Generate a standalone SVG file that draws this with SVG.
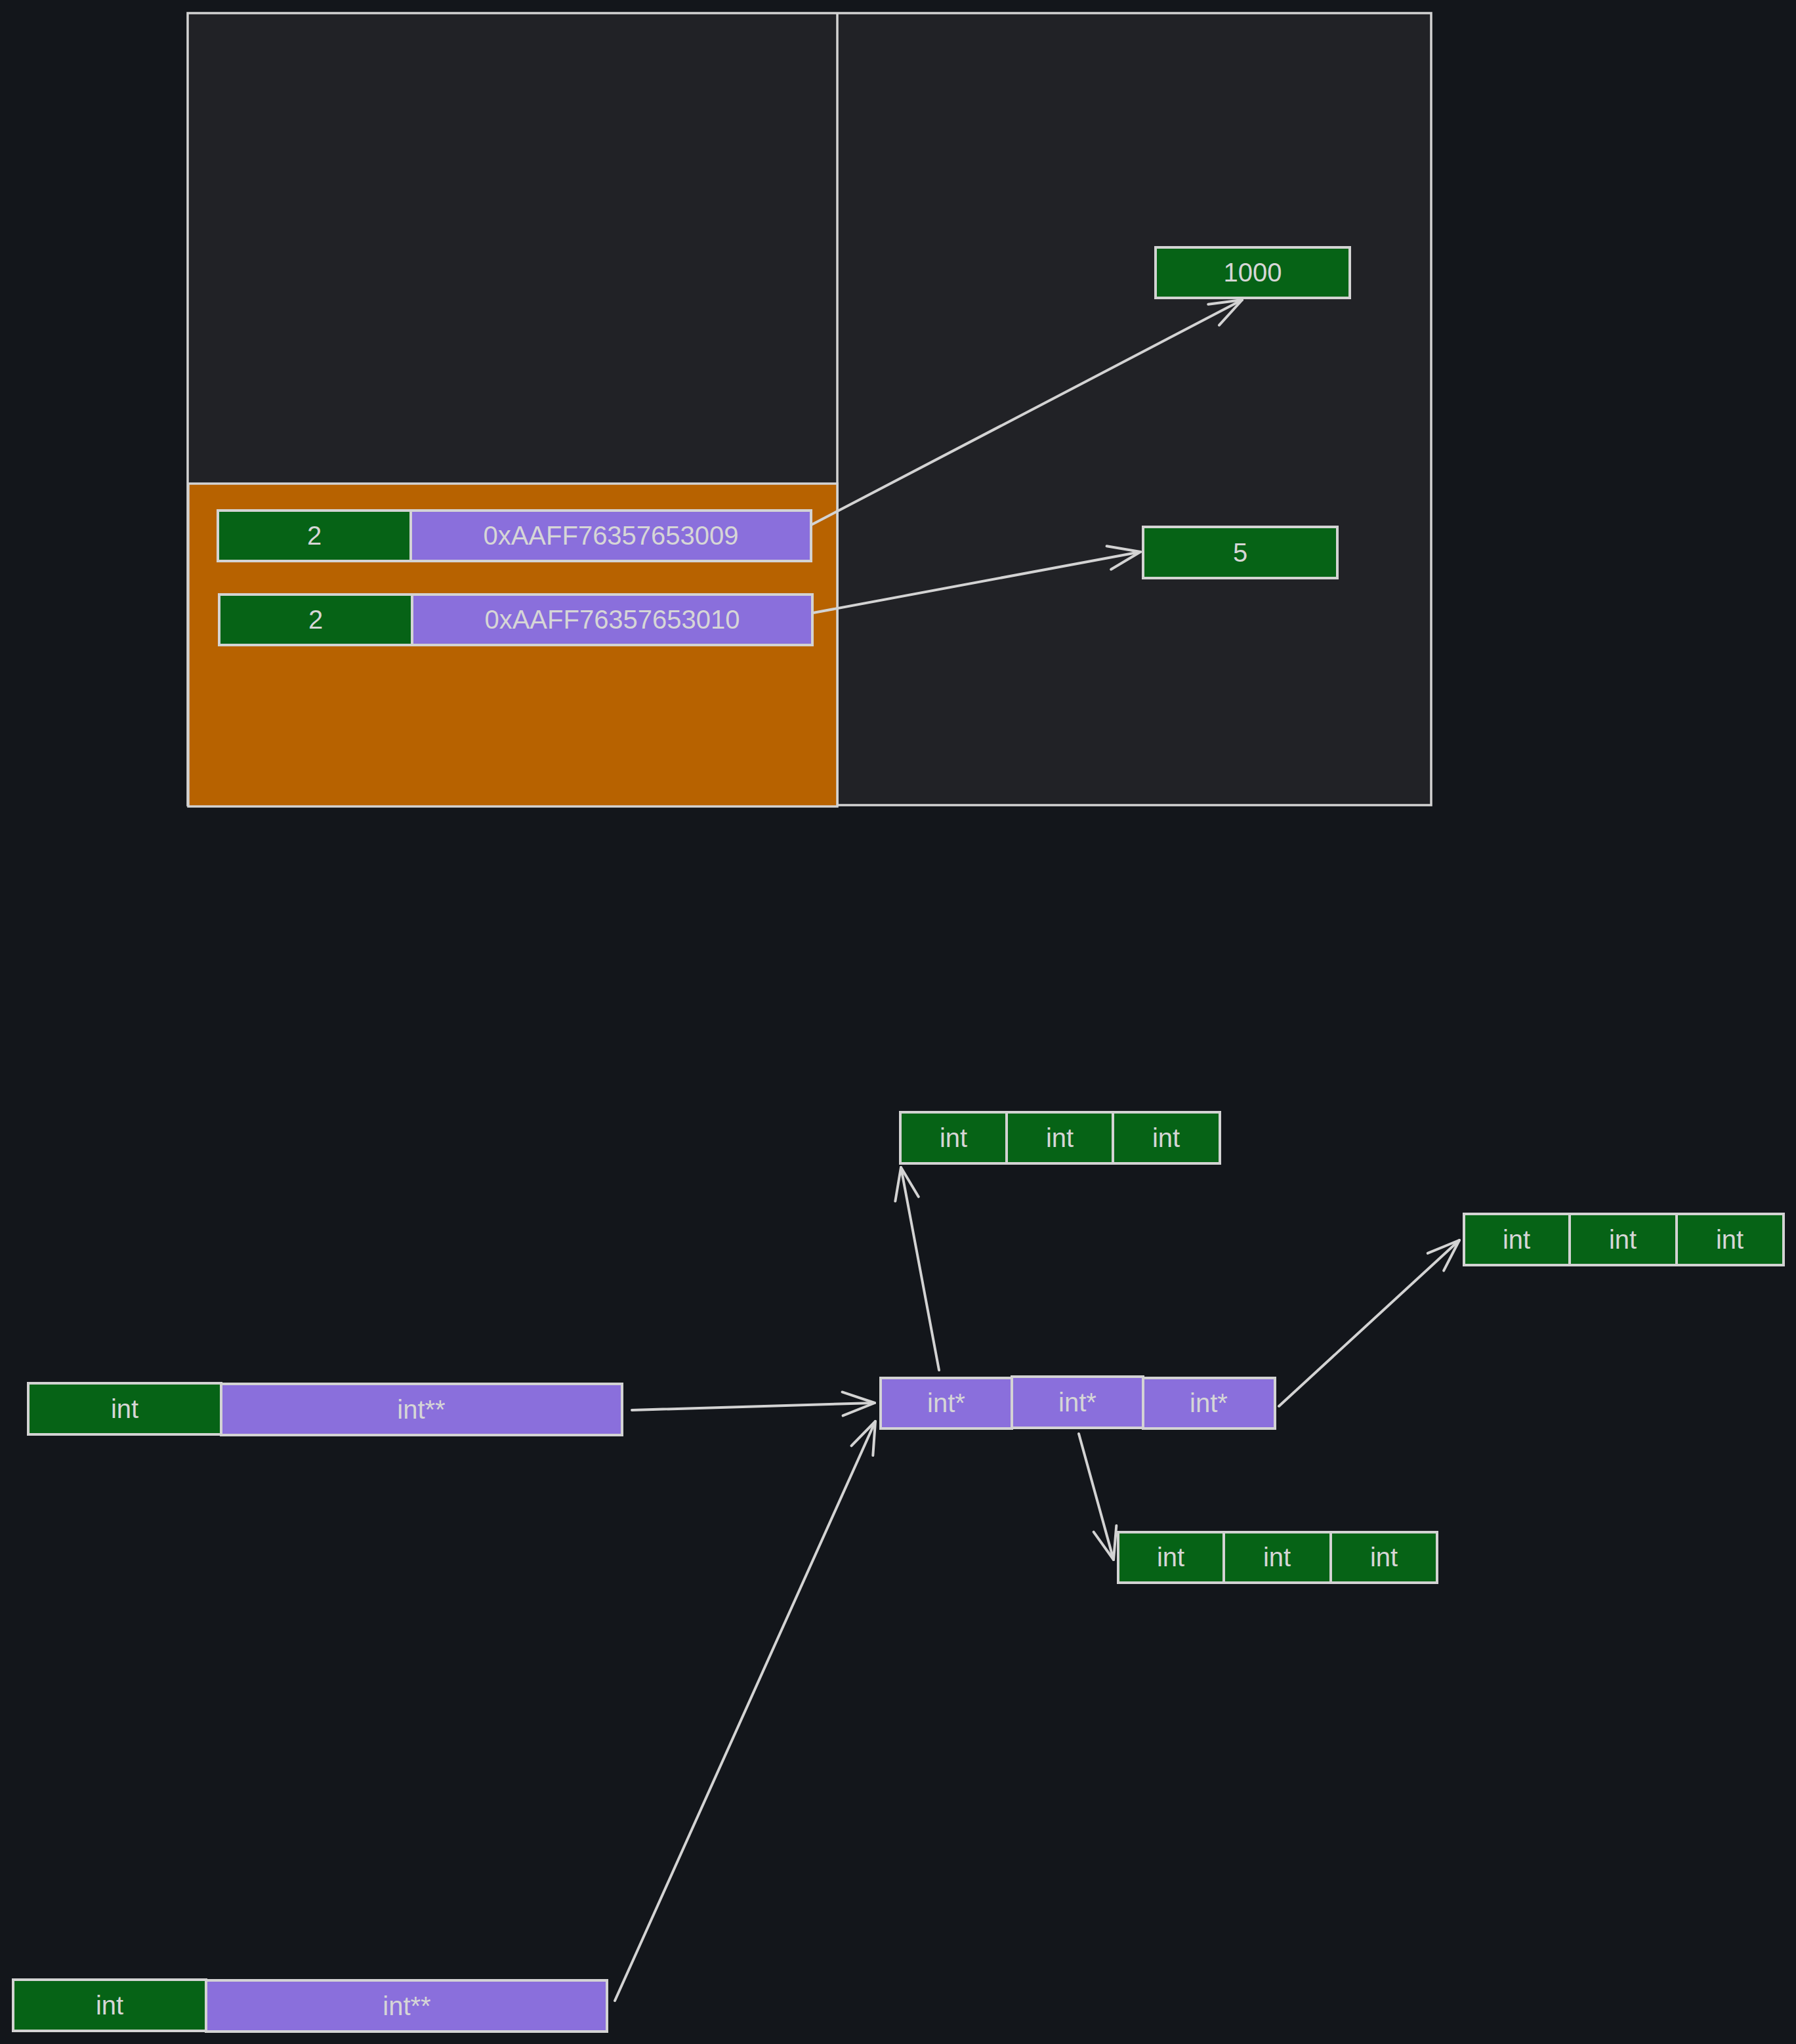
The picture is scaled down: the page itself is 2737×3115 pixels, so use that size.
<svg xmlns="http://www.w3.org/2000/svg" width="2737" height="3115" viewBox="0 0 2737 3115">
<style>
.bg{fill:#13161b}
.frame{fill:#212226;stroke:#d3d3d3;stroke-width:3.5}
.heap{fill:#b76200;stroke:#d3d3d3;stroke-width:3.5}
.g{fill:#066316;stroke:#d3d3d3;stroke-width:4}
.p{fill:#8a6fdc;stroke:#d3d3d3;stroke-width:4}
.t{font-family:"Liberation Sans",Arial,sans-serif;font-size:40px;fill:#d6d6d6;text-anchor:middle}
.c{fill:none;stroke:#d3d3d3;stroke-width:4;stroke-linecap:round;marker-end:url(#arr)}
</style>
<defs>
<marker id="arr" markerUnits="userSpaceOnUse" markerWidth="60" markerHeight="60" refX="0" refY="0" orient="auto" overflow="visible">
<path d="M-49,-18 L0,0 L-49,18" fill="none" stroke="#d3d3d3" stroke-width="4" stroke-linecap="round" stroke-linejoin="round"/>
</marker>
</defs>
<rect class="bg" x="0" y="0" width="2737" height="3115"/>

<g id="memory-frame">
<rect class="frame" x="286" y="20" width="1895" height="1207"/>
<line x1="1276" y1="20" x2="1276" y2="1227" stroke="#d3d3d3" stroke-width="3.5"/>
<rect class="heap" x="287" y="737" width="989" height="492"/>
</g>

<g id="node-row1">
<rect class="g" x="332" y="778" width="294" height="77"/>
<text class="t" x="479" y="830">2</text>
<rect class="p" x="626" y="778" width="610" height="77"/>
<text class="t" x="931" y="830">0xAAFF76357653009</text>
</g>

<g id="node-row2">
<rect class="g" x="334" y="906" width="294" height="77"/>
<text class="t" x="481" y="958">2</text>
<rect class="p" x="628" y="906" width="610" height="77"/>
<text class="t" x="933" y="958">0xAAFF76357653010</text>
</g>

<g id="node-1000">
<rect class="g" x="1761" y="377" width="296" height="77"/>
<text class="t" x="1909" y="429">1000</text>
</g>

<g id="node-5">
<rect class="g" x="1742" y="803" width="296" height="78"/>
<text class="t" x="1890" y="856">5</text>
</g>

<g id="node-intpp1">
<rect class="g" x="43" y="2108" width="294" height="78"/>
<text class="t" x="190" y="2161">int</text>
<rect class="p" x="337" y="2109" width="611" height="78"/>
<text class="t" x="642" y="2162">int**</text>
</g>

<g id="node-intpp2">
<rect class="g" x="20" y="3017" width="294" height="78"/>
<text class="t" x="167" y="3070">int</text>
<rect class="p" x="314" y="3018" width="611" height="78"/>
<text class="t" x="620" y="3071">int**</text>
</g>

<g id="node-intp-array">
<rect class="p" x="1342" y="2100" width="200" height="77"/>
<text class="t" x="1442" y="2152">int*</text>
<rect class="p" x="1542" y="2098" width="200" height="78"/>
<text class="t" x="1642" y="2151">int*</text>
<rect class="p" x="1742" y="2100" width="201" height="77"/>
<text class="t" x="1842" y="2152">int*</text>
</g>

<g id="node-int-top">
<rect class="g" x="1372" y="1695" width="162" height="78"/>
<text class="t" x="1453" y="1748">int</text>
<rect class="g" x="1534" y="1695" width="162" height="78"/>
<text class="t" x="1615" y="1748">int</text>
<rect class="g" x="1696" y="1695" width="163" height="78"/>
<text class="t" x="1777" y="1748">int</text>
</g>

<g id="node-int-right">
<rect class="g" x="2231" y="1850" width="161" height="78"/>
<text class="t" x="2311" y="1903">int</text>
<rect class="g" x="2392" y="1850" width="163" height="78"/>
<text class="t" x="2473" y="1903">int</text>
<rect class="g" x="2555" y="1850" width="163" height="78"/>
<text class="t" x="2636" y="1903">int</text>
</g>

<g id="node-int-bottom">
<rect class="g" x="1704" y="2335" width="161" height="77"/>
<text class="t" x="1784" y="2387">int</text>
<rect class="g" x="1865" y="2335" width="163" height="77"/>
<text class="t" x="1946" y="2387">int</text>
<rect class="g" x="2028" y="2335" width="162" height="77"/>
<text class="t" x="2109" y="2387">int</text>
</g>

<g id="connectors">
<line class="c" x1="1238" y1="799" x2="1893" y2="457"/>
<line class="c" x1="1239" y1="934" x2="1738" y2="841"/>
<line class="c" x1="963" y1="2149" x2="1333" y2="2138"/>
<line class="c" x1="937" y1="3049" x2="1334" y2="2166"/>
<line class="c" x1="1431" y1="2088" x2="1373" y2="1779"/>
<line class="c" x1="1949" y1="2143" x2="2224" y2="1890"/>
<line class="c" x1="1644" y1="2185" x2="1697" y2="2377"/>
</g>
</svg>
